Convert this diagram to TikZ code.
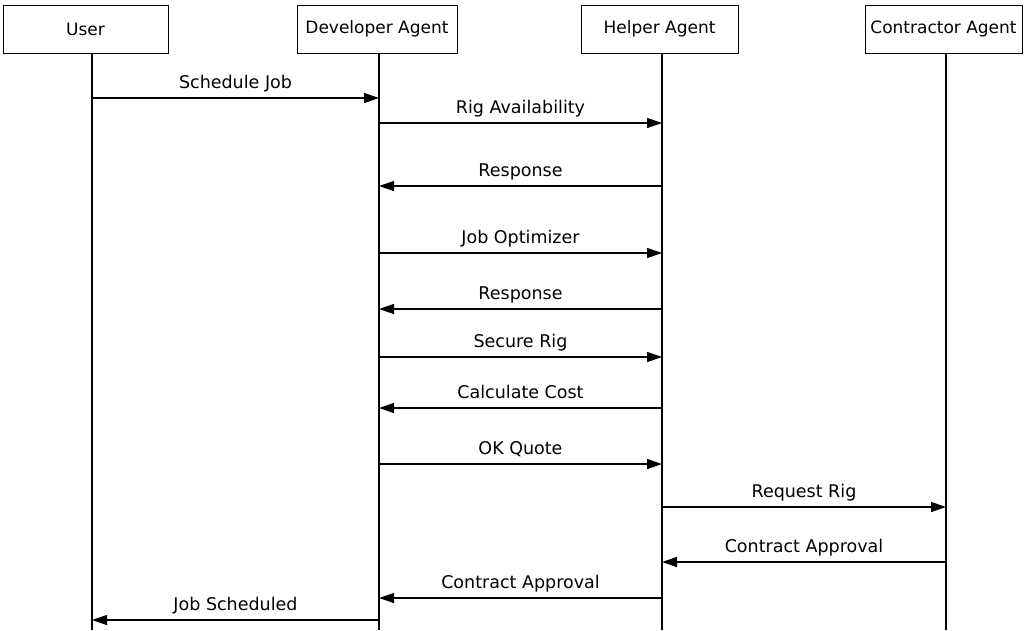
\documentclass[tikz,border=0pt]{standalone}
\usepackage{fontspec}
\setmainfont{DejaVu Sans}
\usetikzlibrary{arrows.meta}
\begin{document}
\begin{tikzpicture}[x=1pt,y=-1pt,
  actor/.style={draw,line width=1pt,minimum height=48pt,inner sep=0pt,font=\fontsize{17}{19}\selectfont},
  life/.style={line width=1.3pt},
  msg/.style={line width=1.3pt,-{Triangle[length=15pt,width=10pt]}},
  lbl/.style={midway,anchor=base,yshift=10pt,inner sep=0pt,font=\fontsize{17.5}{19}\selectfont}]
\useasboundingbox (0,0) rectangle (1029,630);
\node[actor,minimum width=165pt] (u) at (85.5,29) {User};
\node[actor,minimum width=160pt] (d) at (377,29) {Developer Agent};
\node[actor,minimum width=157pt] (h) at (659.5,29) {Helper Agent};
\node[actor,minimum width=157pt] (c) at (943.5,29) {Contractor Agent};
\coordinate (uT) at (92,53);  \coordinate (uB) at (92,630);
\coordinate (dT) at (379,53); \coordinate (dB) at (379,630);
\coordinate (hT) at (662,53); \coordinate (hB) at (662,630);
\coordinate (cT) at (946,53); \coordinate (cB) at (946,630);
\draw[life] (uT) -- (uB);
\draw[life] (dT) -- (dB);
\draw[life] (hT) -- (hB);
\draw[life] (cT) -- (cB);
\draw[msg] (uT |- {(0,98)}) -- node[lbl]{Schedule Job} (dT |- {(0,98)});
\draw[msg] (dT |- {(0,123)}) -- node[lbl]{Rig Availability} (hT |- {(0,123)});
\draw[msg] (hT |- {(0,186)}) -- node[lbl]{Response} (dT |- {(0,186)});
\draw[msg] (dT |- {(0,253)}) -- node[lbl]{Job Optimizer} (hT |- {(0,253)});
\draw[msg] (hT |- {(0,309)}) -- node[lbl]{Response} (dT |- {(0,309)});
\draw[msg] (dT |- {(0,357)}) -- node[lbl]{Secure Rig} (hT |- {(0,357)});
\draw[msg] (hT |- {(0,408)}) -- node[lbl]{Calculate Cost} (dT |- {(0,408)});
\draw[msg] (dT |- {(0,464)}) -- node[lbl]{OK Quote} (hT |- {(0,464)});
\draw[msg] (hT |- {(0,507)}) -- node[lbl]{Request Rig} (cT |- {(0,507)});
\draw[msg] (cT |- {(0,562)}) -- node[lbl]{Contract Approval} (hT |- {(0,562)});
\draw[msg] (hT |- {(0,598)}) -- node[lbl]{Contract Approval} (dT |- {(0,598)});
\draw[msg] (dT |- {(0,620)}) -- node[lbl]{Job Scheduled} (uT |- {(0,620)});
\end{tikzpicture}
\end{document}
